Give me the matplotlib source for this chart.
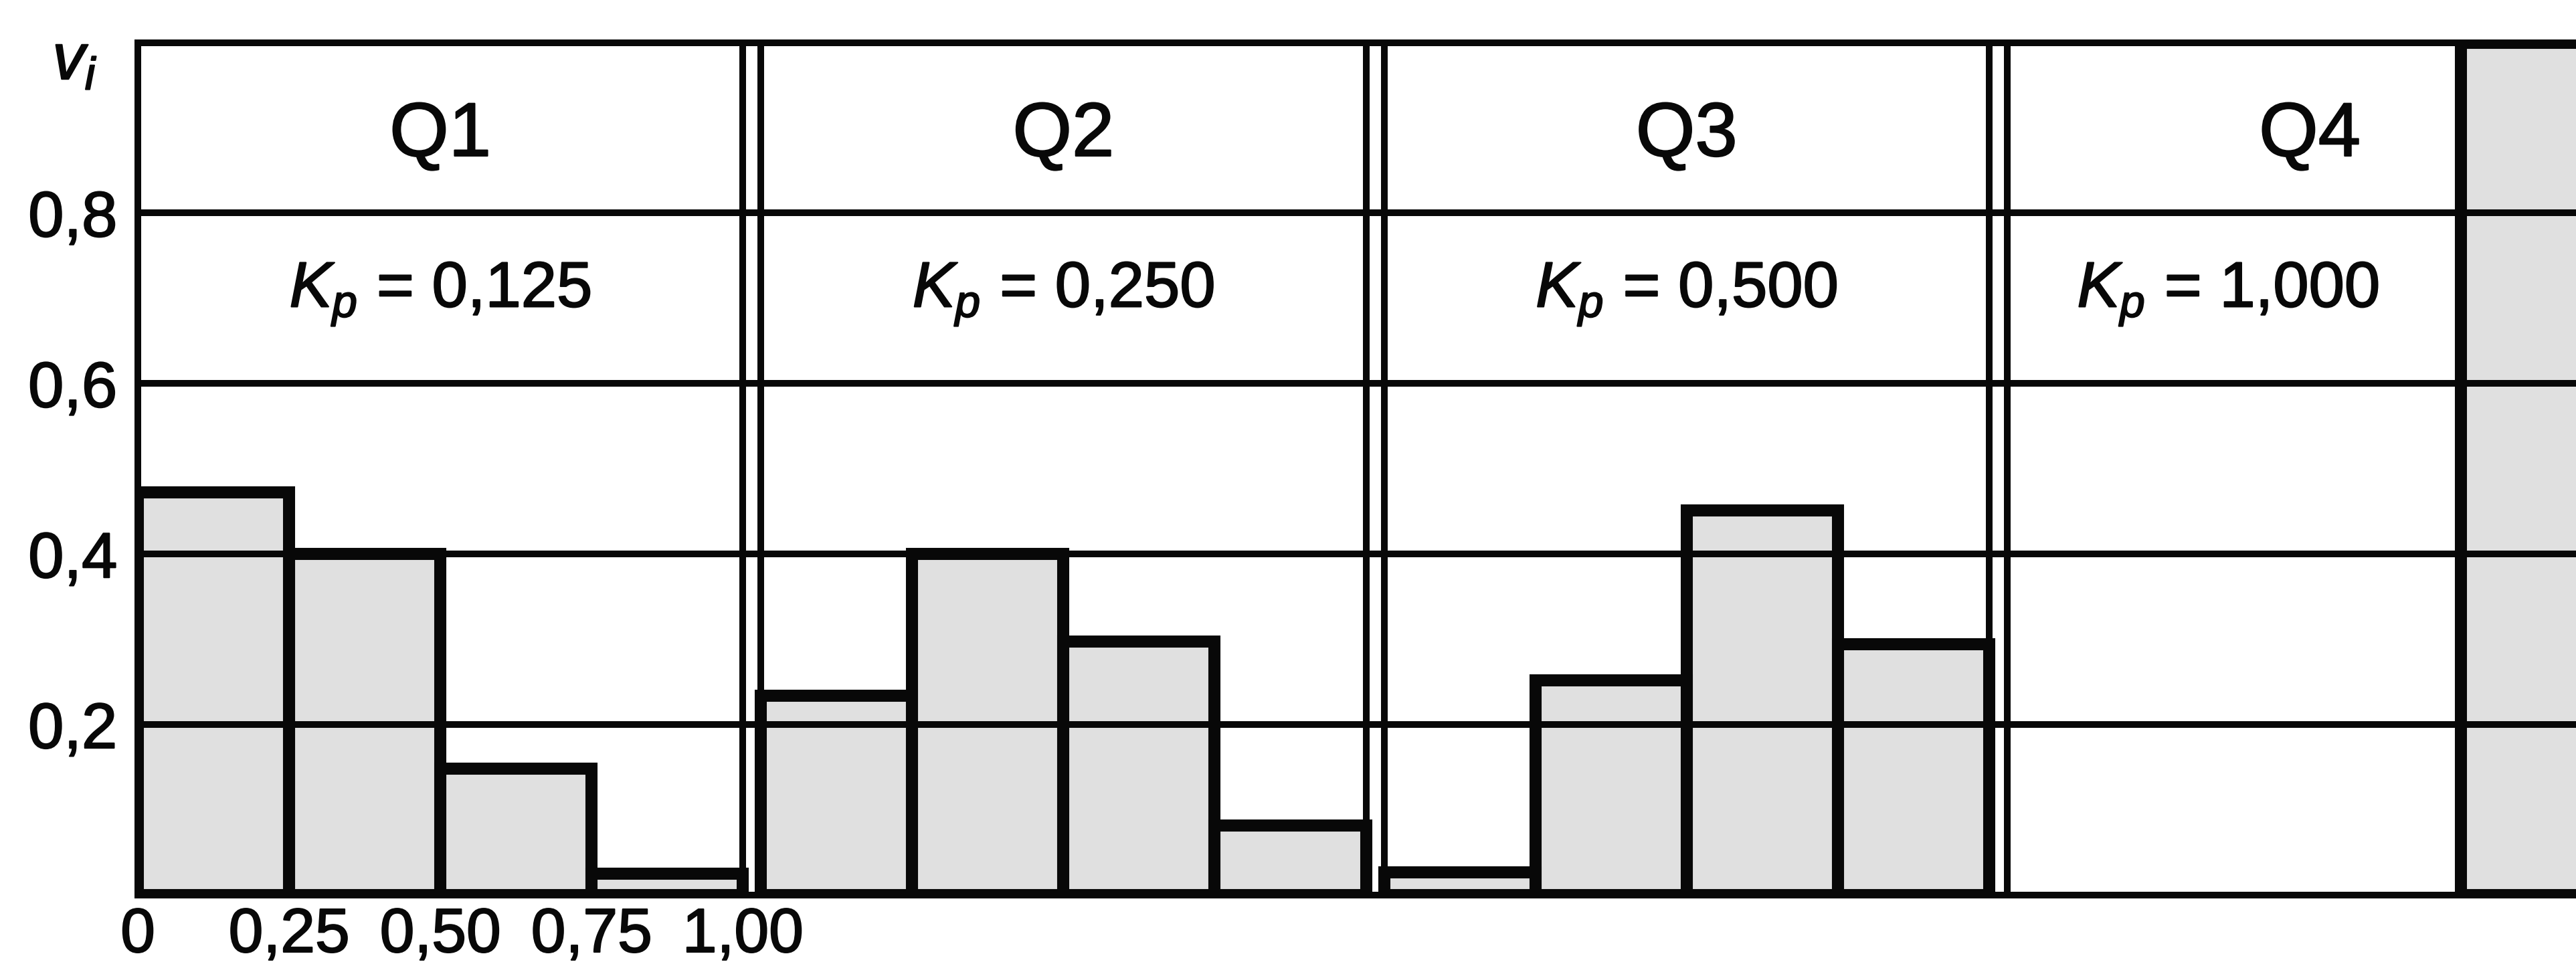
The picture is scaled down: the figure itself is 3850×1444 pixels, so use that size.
import matplotlib as mpl
import matplotlib.pyplot as plt
import matplotlib.patheffects as pe
import numpy as np

mpl.rcParams.update({
    "font.family": ["Liberation Sans", "DejaVu Sans"],
    "mathtext.fontset": "custom",
    "mathtext.rm": "Liberation Sans",
    "mathtext.it": "Liberation Sans:italic",
    "font.size": 66,
})

# === Data ===
groups = ["Q1", "Q2", "Q3", "Q4"]
kp_labels = ["0,125", "0,250", "0,500", "1,000"]
freq = [
    [0.472, 0.400, 0.148, 0.025],   # Q1
    [0.234, 0.400, 0.297, 0.082],   # Q2
    [0.027, 0.252, 0.451, 0.294],   # Q3
    [0.0, 0.0, 0.0, 1.0],           # Q4
]
bin_edges = [0, 0.25, 0.50, 0.75, 1.00]
bin_tick_labels = ["0", "0,25", "0,50", "0,75", "1,00"]
y_ticks = [0.2, 0.4, 0.6, 0.8]
y_tick_labels = ["0,2", "0,4", "0,6", "0,8"]

# === Layout ===
GAP = 0.03
FILL = "#E0E0E0"
INK = "#080808"
kp_label_dx = [0.50, 0.50, 0.50, 0.365]
heavy = [pe.withStroke(linewidth=1.5, foreground=INK)]

fig = plt.figure(figsize=(38.5, 14.44), dpi=100)
ax = fig.add_axes([0.0535, 0.0734, 1 - 0.0535, 0.956 - 0.0734])

width = bin_edges[1] - bin_edges[0]
for gi, vals in enumerate(freq):
    off = gi * (1 + GAP)
    x = off + np.array(bin_edges[:-1])
    vals = np.array(vals)
    m = vals > 0
    ax.bar(x[m], vals[m], width=width, align="edge", color=FILL,
           edgecolor="none", zorder=1)
    ax.bar(x[m], vals[m], width=width, align="edge", fill=False,
           edgecolor=INK, linewidth=13, zorder=4)
    ax.text(off + 0.5, 0.867, groups[gi], ha="center", va="baseline",
            fontsize=82, color=INK, zorder=5, path_effects=heavy)
    ax.text(off + kp_label_dx[gi], 0.690, rf"$K_p$ = {kp_labels[gi]}",
            ha="center", va="baseline", fontsize=69, color=INK, zorder=5,
            path_effects=heavy)
    if gi < len(freq) - 1:
        for xv in (off + 1, off + 1 + GAP):
            ax.axvline(xv, color=INK, linewidth=7.2, zorder=3)

for yv in y_ticks:
    ax.axhline(yv, color=INK, linewidth=7.2, zorder=2)

ax.set_xlim(0, 4.03)
ax.set_ylim(0, 1.0)
ax.set_xticks(bin_edges)
ax.set_xticklabels(bin_tick_labels)
ax.set_yticks(y_ticks)
ax.set_yticklabels(y_tick_labels)
ax.tick_params(length=0, labelsize=69, colors=INK)
ax.tick_params(axis="x", pad=13, labelsize=67)
ax.tick_params(axis="y", pad=22)
for lab in ax.get_xticklabels() + ax.get_yticklabels():
    lab.set_path_effects(heavy)

for side in ("left", "bottom", "top"):
    ax.spines[side].set_linewidth(7.2)
    ax.spines[side].set_color(INK)
ax.spines["right"].set_visible(False)

ax.text(-0.104, 0.957, r"$v_i$", ha="center", va="baseline", fontsize=70,
        color=INK, clip_on=False, path_effects=heavy)

fig.savefig("out.png", dpi=100, facecolor="white")
